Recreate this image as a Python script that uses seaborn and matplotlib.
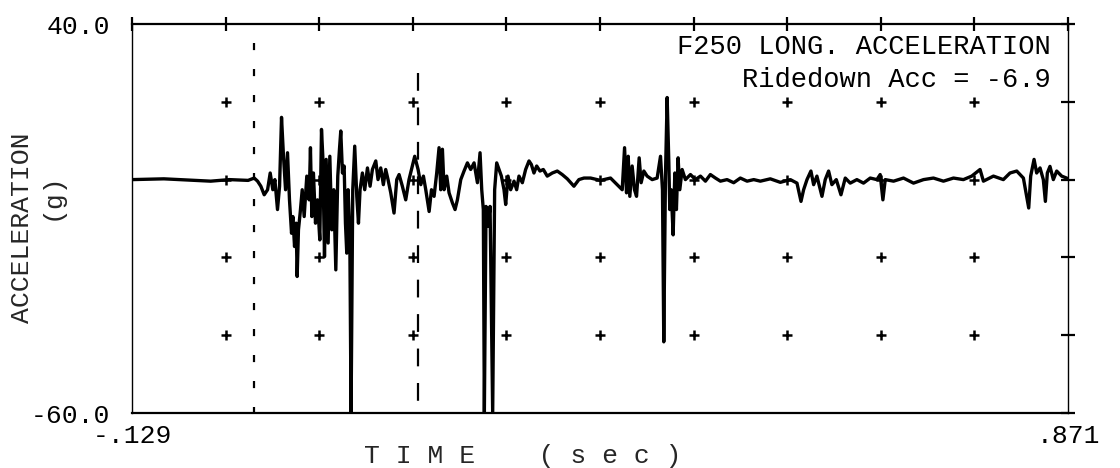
import numpy as np
import pandas as pd
import matplotlib
matplotlib.use('Agg')
import matplotlib.pyplot as plt
import seaborn as sns

# Trace (time in ms, acceleration in g)
time_ms = [
    -129.0, -95.0, -70.0, -45.0, -25.0, -5.0, 1.5, 5.1, 8.6, 12.2,
    15.8, 18.6, 21.4, 23.6, 26.4, 28.6, 30.7, 32.8, 35.0, 37.1,
    39.2, 41.4, 42.8, 44.6, 46.3, 47.4, 48.8, 50.6, 52.8, 54.9,
    57.7, 60.2, 61.6, 63.1, 64.8, 67.0, 69.1, 71.6, 73.4, 74.8,
    76.6, 78.4, 80.5, 82.3, 84.4, 86.5, 88.7, 90.8, 92.6, 94.0,
    95.8, 97.6, 99.0, 100.4, 101.8, 103.6, 105.0, 106.8, 108.9, 111.1,
    112.9, 114.6, 117.1, 119.6, 122.5, 125.3, 127.8, 131.4, 133.8, 136.7,
    139.5, 142.0, 144.5, 147.4, 150.9, 153.8, 156.3, 159.8, 163.4, 166.9,
    170.5, 173.0, 176.6, 179.5, 182.3, 184.8, 188.4, 190.9, 193.7, 196.5,
    199.0, 200.8, 202.6, 204.4, 207.2, 209.7, 213.3, 216.1, 218.6, 222.2,
    225.7, 229.3, 232.8, 236.4, 240.0, 242.8, 244.6, 246.3, 247.4, 249.2,
    251.3, 253.5, 256.3, 258.4, 260.6, 263.1, 265.6, 268.4, 270.2, 272.7,
    275.5, 279.1, 281.9, 284.4, 288.0, 291.5, 295.1, 297.6, 300.4, 303.3,
    306.8, 310.4, 314.6, 320.0, 325.3, 330.6, 336.0, 343.1, 348.4, 353.8,
    360.9, 371.5, 382.2, 389.3, 394.7, 397.2, 399.3, 401.1, 402.8, 405.3,
    407.8, 410.0, 412.8, 414.9, 417.8, 421.3, 426.7, 432.0, 435.6, 437.7,
    439.1, 440.9, 442.7, 444.5, 445.5, 447.0, 449.1, 450.9, 452.6, 454.4,
    456.2, 458.7, 462.2, 467.6, 472.9, 478.3, 483.6, 488.9, 494.3, 499.6,
    506.7, 513.8, 520.9, 528.1, 535.2, 542.3, 552.9, 563.6, 574.3, 581.4,
    585.7, 588.5, 592.1, 596.3, 599.2, 602.7, 608.1, 611.6, 615.2, 618.7,
    623.4, 628.4, 633.0, 638.3, 645.4, 652.5, 659.7, 666.8, 670.3, 673.2,
    675.7, 684.6, 695.2, 705.9, 716.6, 727.2, 737.9, 748.6, 759.2, 768.1,
    777.0, 780.6, 791.3, 801.9, 809.0, 816.2, 823.3, 829.0, 831.1, 834.7,
    837.5, 841.1, 844.6, 846.8, 848.9, 851.7, 855.3, 858.9, 864.2, 869.5,
    871.0,
]
accel_g = [
    0.0, 0.2, -0.1, -0.4, 0.0, -0.2, 0.4, -0.4, -1.7, -3.9,
    -2.6, 1.7, -2.6, 0.0, -7.7, -1.7, 16.0, 6.0, -2.6, 6.9,
    -5.2, -13.8, -9.5, -17.2, -11.2, -24.9, -12.9, -8.6, -2.6, -9.5,
    0.9, -5.2, 8.2, -9.5, 1.7, -11.2, -5.2, -15.5, 12.9, 6.0,
    -19.8, 5.2, -16.3, 6.0, -12.9, -2.6, -23.2, 0.9, 7.8, 12.5,
    1.7, 3.5, -11.2, -18.9, -2.6, -12.9, -60.0, -2.6, 8.6, -4.3,
    -11.2, -2.6, 1.7, -2.6, 3.0, -1.7, 2.6, 4.8, 0.0, 3.0,
    -1.3, 2.6, 0.0, -3.4, -8.6, 0.0, 1.3, -1.7, -5.2, 0.0,
    3.5, 6.0, 2.6, -1.3, 0.9, -2.6, -8.2, -2.6, -4.3, 1.7,
    8.2, -2.6, 7.8, -2.6, 0.9, -3.4, -6.0, -7.7, -5.2, 0.0,
    2.2, 4.3, 2.6, 4.3, -0.8, 6.9, -2.6, -7.7, -60.0, -6.9,
    -12.0, -6.9, -60.0, -2.6, 4.3, 2.6, 0.9, -2.6, -6.4, 0.9,
    -2.6, -0.4, -2.6, 0.9, -0.8, 2.6, 4.8, 3.9, 1.7, 3.5,
    2.2, 2.6, 0.9, 1.7, 2.2, 1.3, 0.2, -1.7, 0.0, 0.4,
    0.4, -0.2, 0.4, -1.3, -2.6, 8.2, -3.4, 6.0, -4.3, 3.5,
    -2.6, -4.3, 5.6, -0.8, 2.2, 0.9, 0.0, 0.4, 6.0, -2.6,
    -41.7, 0.9, 21.1, 4.3, -7.7, -2.6, -14.2, 1.7, -7.7, 5.6,
    -2.6, 2.6, 0.0, 1.3, 0.0, 0.9, -0.4, 1.3, 0.4, -0.4,
    0.0, -0.8, 0.4, -0.4, 0.0, -0.4, 0.2, -0.7, 0.0, -0.9,
    -5.6, -2.6, 0.0, 2.2, -1.3, 0.9, -4.3, 0.0, 2.2, -1.3,
    0.0, -3.9, 0.4, -0.9, 0.0, -0.9, 0.4, 0.0, 1.3, -5.2,
    0.0, -0.4, 0.4, -0.9, 0.0, 0.4, -0.4, 0.4, 0.0, 0.9,
    2.6, -0.4, 0.9, 0.0, 1.7, 2.2, 0.4, -7.3, 0.9, 5.2,
    1.7, 3.0, 0.0, -5.6, 1.7, 3.4, 0.0, 2.2, 0.9, 0.4,
    0.2,
]

# axis ticks (only the ends are labelled)
x_ticks = [-0.129, -0.029, 0.071, 0.171, 0.271, 0.371, 0.471, 0.571, 0.671, 0.771, 0.871]
x_labels = ['-.129', '', '', '', '', '', '', '', '', '', '.871']
y_ticks = [-60, -40, -20, 0, 20, 40]
y_labels = ['-60.0', '', '', '', '', '40.0']

# event markers (dashed verticals)
event_times = [0.001, 0.177]
event_tops = [35.0, 27.5]

title_lines = ['F250 LONG. ACCELERATION', 'Ridedown Acc = -6.9']

df = pd.DataFrame({'time': np.array(time_ms) / 1000.0, 'accel': accel_g})

sns.set_theme(style='white')
plt.rcParams['font.family'] = ['Liberation Mono', 'DejaVu Sans Mono']

fig = plt.figure(figsize=(11.2, 4.68), dpi=100)
ax = fig.add_axes([0.1179, 0.1175, 0.8357, 0.8312])

# grid crosses
gx, gy = np.meshgrid(x_ticks[1:-1], y_ticks[1:-1])
ax.plot(gx.ravel(), gy.ravel(), '+', color='black', ms=7, mew=1.8, zorder=1)

# dashed event lines
ax.plot([event_times[0]] * 2, [event_tops[0], y_ticks[0]], color='black',
        lw=1.6, ls=(0, (3.2, 8.5)), zorder=2)
ax.plot([event_times[1]] * 2, [event_tops[1], y_ticks[0]], color='black',
        lw=1.6, ls=(0, (8.0, 7.5)), zorder=2)

sns.lineplot(data=df, x='time', y='accel', ax=ax, color='black', lw=2.4,
             estimator=None, sort=False, zorder=3)

ax.set_xlim(x_ticks[0], x_ticks[-1])
ax.set_ylim(y_ticks[0], y_ticks[-1])
ax.set_xticks(x_ticks)
ax.set_xticklabels(x_labels)
ax.set_yticks(y_ticks)
ax.set_yticklabels(y_labels)
ax.tick_params(axis='both', direction='inout', length=10, width=1.6,
               colors='black', labelsize=19, top=True, right=True)
ax.tick_params(axis='x', pad=3)
ax.tick_params(axis='y', pad=11)
ax.set_xlabel('')
ax.set_ylabel('')

for side in ['top', 'bottom']:
    ax.spines[side].set_linewidth(1.6)
for side in ['left', 'right']:
    ax.spines[side].set_linewidth(1.0)
for sp in ax.spines.values():
    sp.set_color('black')

ax.text(0.982, 0.941, title_lines[0], transform=ax.transAxes, ha='right',
        va='center', fontsize=19.5, color='black')
ax.text(0.982, 0.856, title_lines[1], transform=ax.transAxes, ha='right',
        va='center', fontsize=19.5, color='black')

fig.text(22 / 1120, 1 - 228 / 468, 'ACCELERATION', rotation=90, ha='center',
         va='center', fontsize=19)
fig.text(52 / 1120, 1 - 196 / 468, '(g)', rotation=90, ha='center',
         va='center', fontsize=19)
fig.text(523 / 1120, 1 - 456 / 468, 'T I M E    ( s e c )', ha='center',
         va='center', fontsize=19)

fig.savefig('out.png', dpi=100)
